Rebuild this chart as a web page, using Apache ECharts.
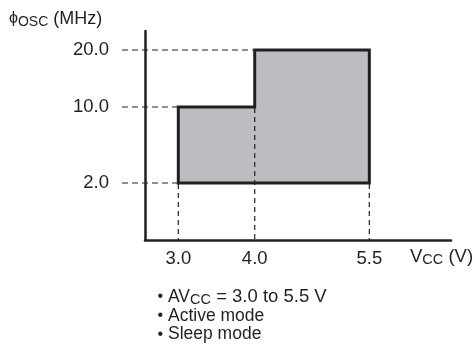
<!DOCTYPE html>
<html><head><meta charset="utf-8">
<script src="https://cdn.jsdelivr.net/npm/echarts@6/dist/echarts.min.js"></script>
<style>html,body{margin:0;padding:0;background:#fff}#c{width:475px;height:351px}</style>
</head><body><div id="c"></div>
<script>
// Operating range outline (V, MHz)
const voltage = [3.0, 3.0, 4.0, 4.0, 5.5, 5.5];
const freq = [2, 10, 10, 20, 20, 2];
// Axis ticks
const xTicks = [3.0, 4.0, 5.5];
const yTicks = [2, 10, 20];
const yTickLabels = ['2.0', '10.0', '20.0'];
// schematic (non-linear) slot of each frequency tick on the vertical axis
const ySlots = [1, 7 / 3, 10 / 3];
// Guide lines
const hGuideFreq = [2, 10, 20];
const hGuideToV = [3.0, 3.0, 4.0];
const vGuideV = [3.0, 4.0, 5.5];
const vGuideFromF = [2, 10, 2];
// Notes
const notes = ['{t|AV}{s|CC}{n| = 3.0 to 5.5 V}', '{t|Active mode}', '{t|Sleep mode}'];

const FONT = "'Liberation Sans', Arial, Helvetica, sans-serif";
const INK = '#231f20';

function slot(f) {
  let pf = 0, ps = 0;
  for (let i = 0; i < yTicks.length; i++) {
    if (f <= yTicks[i]) return ps + (f - pf) / (yTicks[i] - pf) * (ySlots[i] - ps);
    pf = yTicks[i]; ps = ySlots[i];
  }
  return ps;
}

const chart = echarts.init(document.getElementById('c'), null, { renderer: 'canvas' });

const option = {
  animation: false,
  grid: { left: 145, right: 24, top: 31, bottom: 111, containLabel: false },
  xAxis: {
    type: 'value', min: 2.564, max: 6.569,
    splitLine: { show: false },
    axisTick: { show: false },
    axisLine: { show: true, onZero: false, lineStyle: { color: INK, width: 2.5 } },
    axisLabel: {
      customValues: xTicks, margin: 9,
      formatter: v => v.toFixed(1),
      color: INK, fontSize: 18.5, fontFamily: FONT
    }
  },
  yAxis: {
    type: 'value', min: 0, max: 11 / 3,
    splitLine: { show: false },
    axisTick: { show: false },
    axisLine: { show: true, onZero: false, lineStyle: { color: INK, width: 2.5 } },
    axisLabel: {
      customValues: ySlots, margin: 36,
      formatter: v => {
        let bi = 0;
        ySlots.forEach((s, i) => { if (Math.abs(s - v) < Math.abs(ySlots[bi] - v)) bi = i; });
        return yTickLabels[bi];
      },
      color: INK, fontSize: 18.5, fontFamily: FONT
    }
  },
  series: [
    {
      type: 'custom', name: 'range', z: 2,
      data: [0],
      renderItem: (params, api) => {
        const pts = voltage.map((v, i) => api.coord([v, slot(freq[i])]));
        return {
          type: 'polygon',
          shape: { points: pts },
          style: { fill: '#bcbdc0', stroke: INK, lineWidth: 3, lineJoin: 'miter' }
        };
      }
    },
    {
      type: 'custom', name: 'hguides', z: 3,
      data: hGuideFreq.map((f, i) => [hGuideToV[i], f]),
      renderItem: (params, api) => {
        const f = api.value(1), v = api.value(0);
        const p = api.coord([v, slot(f)]);
        const x0 = params.coordSys.x - 23;
        return {
          type: 'line',
          shape: { x1: x0, y1: p[1], x2: p[0] - 1, y2: p[1] },
          style: { stroke: INK, lineWidth: 1.2, lineDash: [6, 4] }
        };
      }
    },
    {
      type: 'custom', name: 'vguides', z: 3,
      data: vGuideV.map((v, i) => [v, vGuideFromF[i]]),
      renderItem: (params, api) => {
        const v = api.value(0), f = api.value(1);
        const p = api.coord([v, slot(f)]);
        const yb = params.coordSys.y + params.coordSys.height;
        return {
          type: 'line',
          shape: { x1: p[0], y1: p[1] + 1, x2: p[0], y2: yb },
          style: { stroke: INK, lineWidth: 1.2, lineDash: [5, 4] }
        };
      }
    }
  ],
  graphic: [
    {
      type: 'text', x: 9, y: 19,
      style: {
        text: '{p|ϕ}{s|OSC}{t| (MHz)}',
        verticalAlign: 'middle', fill: INK,
        rich: {
          p: { fontSize: 16, fontFamily: FONT, fill: INK },
          s: { fontSize: 14, fontFamily: FONT, fill: INK, padding: [6, 0, 0, 0] },
          t: { fontSize: 18, fontFamily: FONT, fill: INK }
        }
      }
    },
    {
      type: 'text', x: 410, y: 257,
      style: {
        text: '{t|V}{s|CC}{t| (V)}',
        verticalAlign: 'middle', fill: INK,
        rich: {
          s: { fontSize: 14.5, fontFamily: FONT, fill: INK, padding: [6, 0, 0, 0] },
          t: { fontSize: 18.5, fontFamily: FONT, fill: INK }
        }
      }
    }
  ].concat(notes.flatMap((n, i) => [
    {
      type: 'text', x: 157.5, y: 297 + i * 18.7,
      style: { text: '•', fontSize: 16, fontFamily: FONT, fill: INK, verticalAlign: 'middle' }
    },
    {
      type: 'text', x: 168, y: 297 + i * 18.7,
      style: {
        text: n, verticalAlign: 'middle', fill: INK,
        rich: {
          s: { fontSize: 14.5, fontFamily: FONT, fill: INK, padding: [6, 0, 0, 0] },
          t: { fontSize: 17.5, fontFamily: FONT, fill: INK },
          n: { fontSize: 18.5, fontFamily: FONT, fill: INK }
        }
      }
    }
  ]))
};
chart.setOption(option);
</script>
</body></html>
